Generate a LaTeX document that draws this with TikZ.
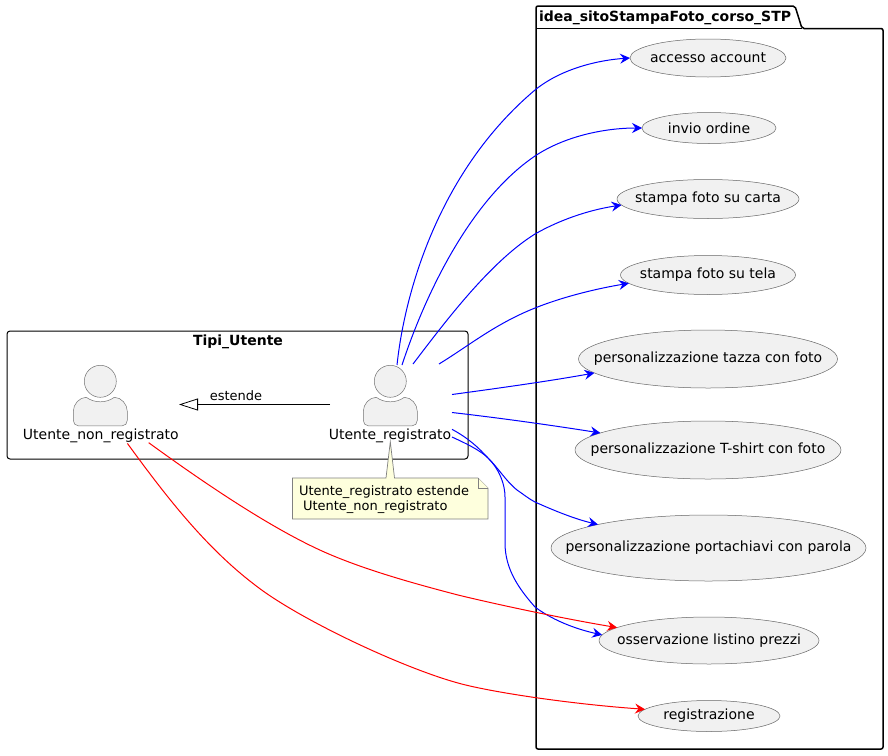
\documentclass[tikz,border=0pt]{standalone}
\usepackage{fontspec}
\setmainfont{DejaVu Sans}
\usetikzlibrary{arrows.meta,shapes.geometric}
\tikzset{
  x=1pt,y=-1pt,
  usecase/.style={ellipse,draw=black!60,line width=0.5pt,fill=usefill,inner sep=0pt,outer sep=0pt,font=\fontsize{14}{16}\selectfont},
  lbl/.style={inner sep=0pt,outer sep=0pt,anchor=base,font=\fontsize{14}{16}\selectfont,text=black},
  notelbl/.style={inner sep=0pt,outer sep=0pt,anchor=base west,font=\fontsize{13}{15}\selectfont,text=black},
  bold lbl/.style={inner sep=0pt,outer sep=0pt,anchor=base,font=\fontsize{14}{16}\selectfont\bfseries,text=black},
  bluelink/.style={draw=linkblue,line width=1pt,-{Stealth[length=10pt,width=10pt,inset=3.5pt]}},
  redlink/.style={draw=linkred,line width=1pt,-{Stealth[length=10pt,width=10pt,inset=3.5pt]}},
  actorfig/.pic={
    \path[draw=black!55,line width=0.5pt,fill=usefill] (0,0) circle (16pt);
    \path[draw=black!55,line width=0.5pt,fill=usefill,line join=round]
      (-27,39) -- (-27,30)
      .. controls (-27,23) and (-21,16) .. (-14,16)
      .. controls (-10,19) and (-5,20.5) .. (0,20.5)
      .. controls (5,20.5) and (10,19) .. (14,16)
      .. controls (21,16) and (27,23) .. (27,30)
      -- (27,39) .. controls (27,42) and (25,44.5) .. (22,44.5)
      -- (-22,44.5) .. controls (-25,44.5) and (-27,42) .. (-27,39) -- cycle;
  }
}
\definecolor{usefill}{HTML}{F1F1F1}
\definecolor{notefill}{HTML}{FEFFDD}
\definecolor{linkblue}{HTML}{0000FF}
\definecolor{linkred}{HTML}{FF0000}
\begin{document}
\begin{tikzpicture}
\path[use as bounding box,fill=white] (0,0) rectangle (888,755);
% package
\draw[black,line width=1.5pt,rounded corners=2pt]
  (536,749) -- (536,6) -- (795,6) -- (802,28.5) -- (883,28.5) -- (883,749) -- cycle;
\draw[black,line width=1.5pt] (536,28.5) -- (802,28.5);
\node[bold lbl,anchor=base west] (pkgtitle) at (539,21) {idea\_sitoStampaFoto\_corso\_STP};
% rectangle
\draw[black,line width=1pt,rounded corners=3pt] (7,331) rectangle (468,459);
\node[bold lbl] (recttitle) at (238,345) {Tipi\_Utente};
% actors
\pic at (100.3,381.3) {actorfig};
\pic at (390.3,381.3) {actorfig};
\node[lbl] (unr) at (100.8,439) {Utente\_non\_registrato};
\node[lbl] (ur) at (390,439) {Utente\_registrato};
% use cases
\node[usecase,minimum width=156pt,minimum height=38pt] (acc) at (708,58) {\makebox[0pt]{accesso account}};
\node[usecase,minimum width=134pt,minimum height=31pt] (inv) at (709,128) {\makebox[0pt]{invio ordine}};
\node[usecase,minimum width=182pt,minimum height=39pt] (car) at (708,199) {\makebox[0pt]{stampa foto su carta}};
\node[usecase,minimum width=175pt,minimum height=39pt] (tel) at (708,275) {\makebox[0pt]{stampa foto su tela}};
\node[usecase,minimum width=259pt,minimum height=58pt] (taz) at (708,359) {\makebox[0pt]{personalizzazione tazza con foto}};
\node[usecase,minimum width=266pt,minimum height=58pt] (tsh) at (708,450) {\makebox[0pt]{personalizzazione T-shirt con foto}};
\node[usecase,minimum width=315pt,minimum height=66pt] (por) at (708.5,548) {\makebox[0pt]{personalizzazione portachiavi con parola}};
\node[usecase,minimum width=220pt,minimum height=47pt] (oss) at (709,640.5) {\makebox[0pt]{osservazione listino prezzi}};
\node[usecase,minimum width=142pt,minimum height=31pt] (reg) at (709,716) {\makebox[0pt]{registrazione}};
% note
\path[draw=black!50,line width=0.7pt,fill=notefill]
  (292.5,478) -- (386,478) -- (390.3,441.7) -- (394.5,478) -- (478,478) -- (488,488) -- (488,519) -- (292.5,519) -- cycle;
\path[draw=black!50,line width=0.7pt,fill=notefill] (478,478) -- (478,488) -- (488,488);
\node[notelbl] (note1) at (299,495) {Utente\_registrato estende};
\node[notelbl] (note2) at (303,510.5) {Utente\_non\_registrato};
% free-end coordinates of connectors
\coordinate (ua) at (397,365);
\coordinate (ub) at (402,365);
\coordinate (uc) at (413,364);
\coordinate (ud) at (439,364);
\coordinate (ue) at (452,394.5);
\coordinate (uf) at (452,412.5);
\coordinate (ug) at (452,429.3);
\coordinate (uh) at (452,437);
\coordinate (na) at (148.7,442.7);
\coordinate (nb) at (127.4,443.4);
\coordinate (exfrom) at (330,404.5);
\coordinate (exto) at (179,404.5);
% extends
\draw[black,line width=0.8pt,-{Triangle[open,length=19pt,width=12pt,fill=white]}] (exfrom) -- (exto);
\node[lbl,font=\fontsize{13}{15}\selectfont] (exl) at (236,400.5) {estende};
% links
\draw[bluelink] (ua) .. controls (405,290) and (440,170) .. (535,90) .. controls (562,68) and (600,60) .. (acc.west);
\draw[bluelink] (ub) .. controls (425,295) and (470,200) .. (535,156) .. controls (565,136) and (605,128) .. (inv.west);
\draw[bluelink] (uc) .. controls (445,322) and (490,262) .. (535,234) .. controls (565,217) and (595,209) .. (car.184);
\draw[bluelink] (ud) .. controls (470,345) and (495,324) .. (535,308) .. controls (565,296) and (600,288) .. (tel.186);
\draw[bluelink] (ue) .. controls (500,388) and (550,381) .. (taz.187);
\draw[bluelink] (uf) .. controls (500,418) and (550,425) .. (tsh.171);
\draw[bluelink] (ug) .. controls (468,438) and (478,447) .. (488,458) .. controls (500,470) and (505,480) .. (517,490) .. controls (523,494) and (529,499) .. (535,502) .. controls (555,511) and (575,519) .. (por.168);
\draw[bluelink] (uh) .. controls (465,443) and (480,450) .. (488,458) .. controls (500,470) and (505,485) .. (505,497) .. controls (505,510) and (505,530) .. (505,543) .. controls (505,570) and (520,590) .. (535,607) .. controls (555,622) and (580,630) .. (oss.177);
\draw[redlink] (na) .. controls (200,480) and (267,526) .. (322,551) .. controls (362,569) and (412,583) .. (458,595) .. controls (495,604) and (560,618) .. (oss.172);
\draw[redlink] (nb) .. controls (165,495) and (205,547) .. (255,585) .. controls (297,618) and (400,667) .. (458,683) .. controls (490,692) and (570,704) .. (reg.174);
\end{tikzpicture}
\end{document}
